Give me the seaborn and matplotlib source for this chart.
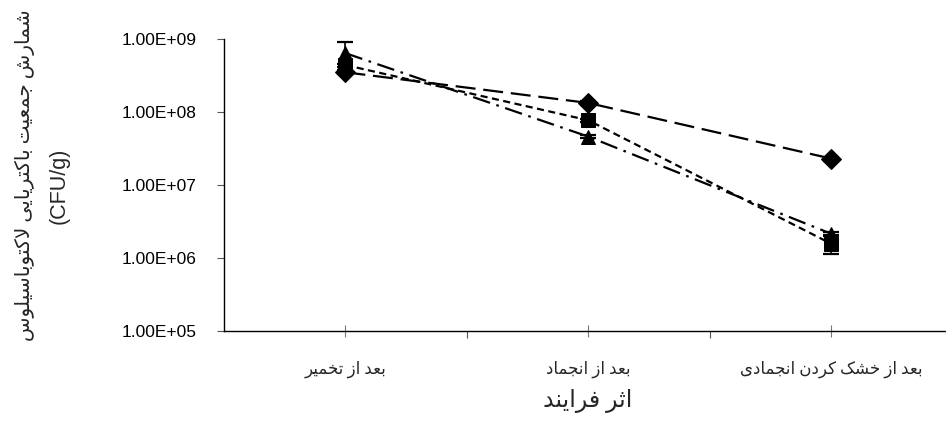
import numpy as np
import pandas as pd
import matplotlib
matplotlib.use("Agg")
import matplotlib.pyplot as plt
from matplotlib.ticker import FixedLocator, FuncFormatter, NullFormatter
import seaborn as sns

# ---- data -------------------------------------------------------------
stages = ["بعد از تخمیر", "بعد از انجماد", "بعد از خشک کردن انجمادی"]
series_names = ["A", "B", "C"]
diamond_vals = [3.5e8, 1.33e8, 2.3e7]
square_vals = [4.4e8, 7.7e7, 1.57e6]
triangle_vals = [6.4e8, 4.6e7, 2.15e6]
diamond_err = [2.0e7, 8.0e6, 1.5e6]
square_err = [2.0e7, 3.0e6, 4.5e5]
triangle_err = [2.6e8, 2.0e6, 1.0e5]
y_ticks = [1e5, 1e6, 1e7, 1e8, 1e9]
y_label_main = "شمارش جمعیت باکتریایی لاکتوباسیلوس"
y_label_unit = "(CFU/g)"
x_label = "اثر فرایند"

# ---- minimal Arabic/Persian shaping (contextual forms + RTL order) -----
# base char -> (isolated, final, initial, medial); None where the letter
# does not connect to the following one
FORMS = {
    "\u0627": ("\uFE8D", "\uFE8E", None, None),
    "\u0628": ("\uFE8F", "\uFE90", "\uFE91", "\uFE92"),
    "\u062A": ("\uFE95", "\uFE96", "\uFE97", "\uFE98"),
    "\u062B": ("\uFE99", "\uFE9A", "\uFE9B", "\uFE9C"),
    "\u062C": ("\uFE9D", "\uFE9E", "\uFE9F", "\uFEA0"),
    "\u062D": ("\uFEA1", "\uFEA2", "\uFEA3", "\uFEA4"),
    "\u062E": ("\uFEA5", "\uFEA6", "\uFEA7", "\uFEA8"),
    "\u062F": ("\uFEA9", "\uFEAA", None, None),
    "\u0630": ("\uFEAB", "\uFEAC", None, None),
    "\u0631": ("\uFEAD", "\uFEAE", None, None),
    "\u0632": ("\uFEAF", "\uFEB0", None, None),
    "\u0633": ("\uFEB1", "\uFEB2", "\uFEB3", "\uFEB4"),
    "\u0634": ("\uFEB5", "\uFEB6", "\uFEB7", "\uFEB8"),
    "\u0639": ("\uFEC9", "\uFECA", "\uFECB", "\uFECC"),
    "\u0641": ("\uFED1", "\uFED2", "\uFED3", "\uFED4"),
    "\u06A9": ("\uFB8E", "\uFB8F", "\uFB90", "\uFB91"),
    "\u0644": ("\uFEDD", "\uFEDE", "\uFEDF", "\uFEE0"),
    "\u0645": ("\uFEE1", "\uFEE2", "\uFEE3", "\uFEE4"),
    "\u0646": ("\uFEE5", "\uFEE6", "\uFEE7", "\uFEE8"),
    "\u0648": ("\uFEED", "\uFEEE", None, None),
    "\u06CC": ("\uFBFC", "\uFBFD", "\uFBFE", "\uFBFF"),
}


def _dual(ch):
    return ch in FORMS and FORMS[ch][2] is not None


def shape_rtl(text):
    out = []
    i = 0
    n = len(text)
    while i < n:
        ch = text[i]
        if ch not in FORMS:
            out.append(ch)
            i += 1
            continue
        prev = text[i - 1] if i > 0 else ""
        joins_prev = _dual(prev)
        if ch == "\u0644" and i + 1 < n and text[i + 1] == "\u0627":
            out.append("\uFEFC" if joins_prev else "\uFEFB")
            i += 2
            continue
        nxt = text[i + 1] if i + 1 < n else ""
        joins_next = _dual(ch) and nxt in FORMS
        iso, fin, ini, med = FORMS[ch]
        if joins_prev and joins_next:
            out.append(med)
        elif joins_prev:
            out.append(fin)
        elif joins_next:
            out.append(ini)
        else:
            out.append(iso)
        i += 1
    return "".join(reversed(out))


# ---- long table for seaborn ---------------------------------------------
df = pd.DataFrame({
    "stage": np.tile(np.arange(len(stages)), 3),
    "count": diamond_vals + square_vals + triangle_vals,
    "series": np.repeat(series_names, len(stages)),
})

sns.set_style("white")
plt.rcParams["font.family"] = ["Liberation Sans", "DejaVu Sans"]
ARABIC = ["Liberation Serif", "DejaVu Sans"]

fig = plt.figure(figsize=(9.46, 4.24), dpi=100)
ax = fig.add_axes([224 / 946, 1 - 331 / 424, 1 - 224 / 946, (331 - 39) / 424])

sns.lineplot(
    data=df, x="stage", y="count", style="series", ax=ax,
    color="black", linewidth=1.6,
    markers={"A": "D", "B": "s", "C": "^"},
    dashes={"A": (9, 3.5), "B": (3.2, 2), "C": (8, 3, 1.2, 3)},
    markersize=10, markeredgecolor="black", legend=False,
    errorbar=None,
)
for vals, errs in [(diamond_vals, diamond_err), (square_vals, square_err),
                   (triangle_vals, triangle_err)]:
    ax.errorbar(np.arange(len(stages)), vals, yerr=errs, fmt="none",
                ecolor="black", elinewidth=1.2, capsize=6, capthick=1.6,
                zorder=1)

ax.set_yscale("log")
ax.set_ylim(1e5, 1e9)
ax.set_xlim(-0.5, 2.473)
ax.yaxis.set_major_locator(FixedLocator(y_ticks))
ax.yaxis.set_minor_formatter(NullFormatter())
ax.yaxis.set_minor_locator(FixedLocator([]))


def sci(v, _):
    m, e = f"{v:.2E}".split("E")
    return f"{m}E{e[0]}{int(e[1:]):02d}"


ax.yaxis.set_major_formatter(FuncFormatter(sci))
ax.tick_params(axis="y", which="major", direction="out", length=5,
               width=0.8, color="#555555", labelsize=12.5, pad=15,
               left=True, labelcolor="black")

ax.set_xticks(range(len(stages)))
ax.set_xticklabels([shape_rtl(s) for s in stages], family=ARABIC,
                   fontsize=12)
ax.xaxis.set_minor_locator(FixedLocator([0.5, 1.5]))
ax.tick_params(axis="x", which="major", direction="inout", length=9,
               width=0.8, color="#777777", pad=17, bottom=True)
ax.tick_params(axis="x", which="minor", direction="out", length=5,
               width=0.8, color="#555555", bottom=True)
ax.set_xlabel("")
ax.set_ylabel("")

for side in ["top", "right"]:
    ax.spines[side].set_visible(False)
for side in ["left", "bottom"]:
    ax.spines[side].set_color("black")
    ax.spines[side].set_linewidth(1.0)

fig.text(588 / 946, 1 - 401 / 424, shape_rtl(x_label), ha="center",
         va="center", fontsize=17, family=ARABIC)
fig.text(25 / 946, 1 - 175 / 424, shape_rtl(y_label_main), rotation=90,
         ha="center", va="center", fontsize=14.5, family=ARABIC)
fig.text(59 / 946, 1 - 186 / 424, y_label_unit, rotation=90,
         ha="center", va="center", fontsize=15.5)

fig.savefig("out.png", dpi=100)
